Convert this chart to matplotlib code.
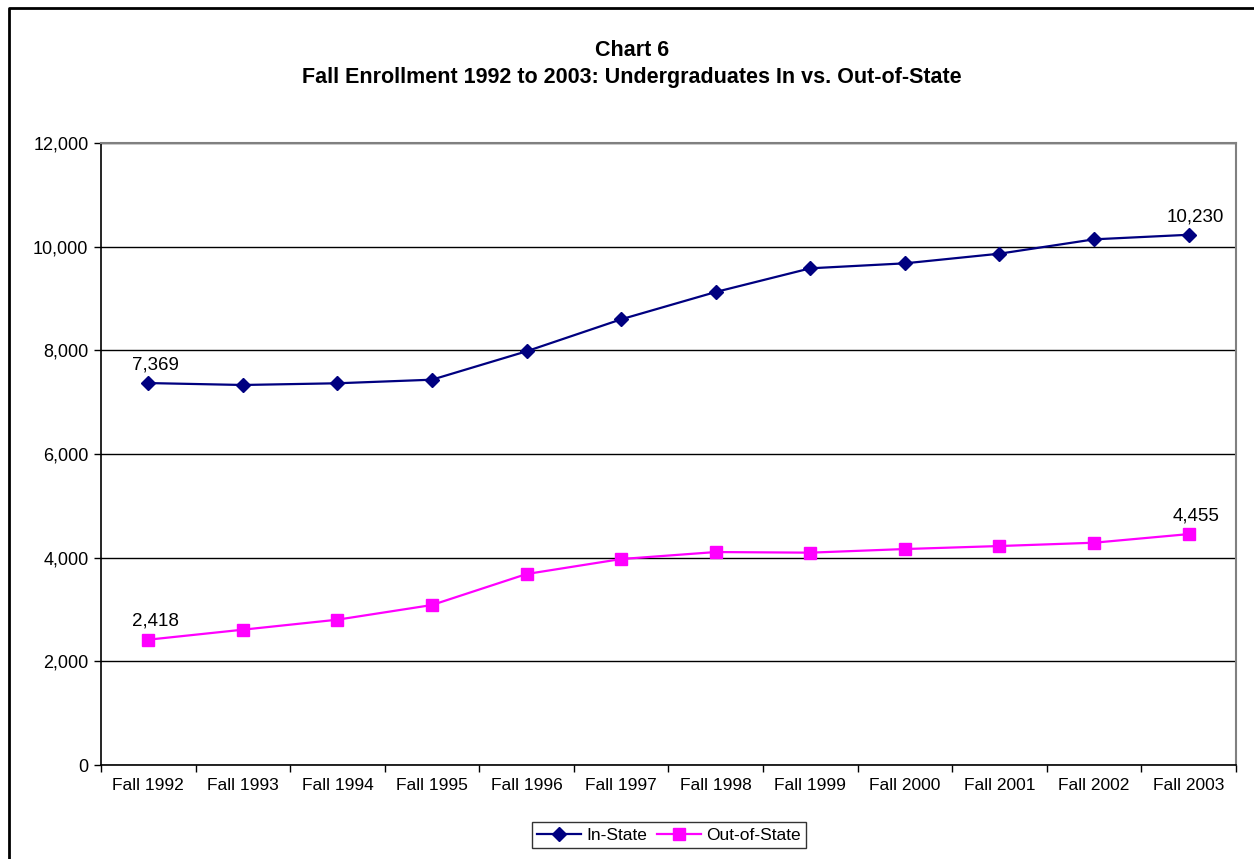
import matplotlib.pyplot as plt
from matplotlib.lines import Line2D
from matplotlib.ticker import FuncFormatter

plt.rcParams["font.family"] = ["Liberation Sans", "DejaVu Sans"]

years = ["Fall 1992", "Fall 1993", "Fall 1994", "Fall 1995", "Fall 1996", "Fall 1997",
         "Fall 1998", "Fall 1999", "Fall 2000", "Fall 2001", "Fall 2002", "Fall 2003"]
in_state = [7369, 7332, 7365, 7434, 7982, 8599, 9126, 9583, 9679, 9865, 10142, 10230]
out_state = [2418, 2611, 2804, 3087, 3685, 3974, 4109, 4097, 4167, 4225, 4289, 4455]


def main() -> None:
    fig = plt.figure(figsize=(12.54, 8.59), dpi=100)
    ax = fig.add_axes([0.0805, 0.1094, 0.9051, 0.7241])

    # outer chart frame: only left and top edges fall inside the image
    x0, y0 = 8.5 / 1254, 1 - 7.5 / 859
    fig.add_artist(Line2D([x0, x0, 1.0], [0.0, y0, y0], transform=fig.transFigure,
                          color="black", linewidth=2))

    x = list(range(len(years)))
    ax.plot(x, in_state, color="#000080", marker="D", markersize=7, linewidth=1.6,
            label="In-State", zorder=3)
    ax.plot(x, out_state, color="#FF00FF", marker="s", markersize=8, linewidth=1.6,
            label="Out-of-State", zorder=3)

    for i, series in ((0, in_state), (11, in_state), (0, out_state), (11, out_state)):
        ax.annotate(f"{series[i]:,}", (x[i], series[i]), xytext=(5, 7),
                    textcoords="offset points", ha="center", va="bottom", fontsize=13.5)

    ax.set_xlim(-0.5, len(years) - 0.5)
    ax.set_ylim(0, 12000)
    ax.set_yticks(range(0, 12001, 2000))
    ax.yaxis.set_major_formatter(FuncFormatter(lambda v, _: f"{int(v):,}"))
    ax.set_xticks(x)
    ax.set_xticklabels(years)
    ax.set_xticks([i + 0.5 for i in range(-1, len(years))], minor=True)
    ax.tick_params(axis="x", which="major", length=0, pad=9, labelsize=12.5)
    ax.tick_params(axis="x", which="minor", length=5, width=1)
    ax.tick_params(axis="y", length=5, width=1, pad=4, labelsize=13)

    ax.grid(axis="y", color="black", linewidth=1)
    ax.set_axisbelow(True)
    for side in ("top", "right"):
        ax.spines[side].set_color("#808080")
        ax.spines[side].set_linewidth(1.5)
    for side in ("left", "bottom"):
        ax.spines[side].set_color("black")
        ax.spines[side].set_linewidth(1.2)

    fig.text(0.504, 1 - 50 / 859, "Chart 6", ha="center", va="center",
             fontsize=15.5, fontweight="bold")
    fig.text(0.504, 1 - 77 / 859,
             "Fall Enrollment 1992 to 2003: Undergraduates In vs. Out-of-State",
             ha="center", va="center", fontsize=15.5, fontweight="bold")

    leg = fig.legend(loc="center", bbox_to_anchor=(669 / 1254, 1 - 835 / 859), ncol=2,
                     frameon=True, fancybox=False, fontsize=12.5, handlelength=2.5,
                     columnspacing=0.6, handletextpad=0.3, borderpad=0.3)
    leg.get_frame().set_edgecolor("black")
    leg.get_frame().set_linewidth(1)

    fig.savefig("out.png", dpi=100)


if __name__ == "__main__":
    main()
